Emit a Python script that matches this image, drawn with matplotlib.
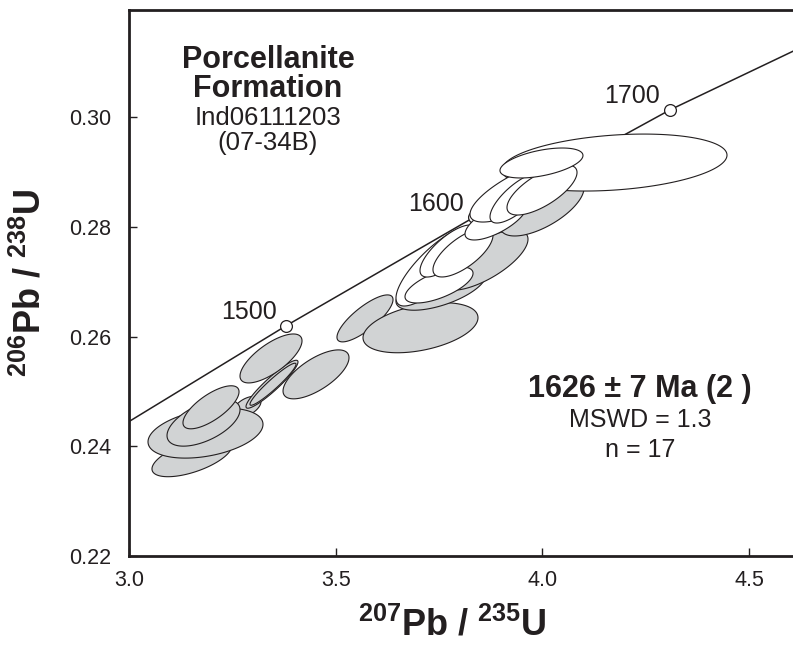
import numpy as np
import matplotlib
matplotlib.use("Agg")
import matplotlib.pyplot as plt

# Concordia curve and age markers
conc_x = [3.000, 3.381, 3.834, 4.309, 4.607]
conc_y = [0.2445, 0.2620, 0.2817, 0.3013, 0.3120]
age_labels = ["1500", "1600", "1700"]
age_x = [3.381, 3.834, 4.309]
age_y = [0.2620, 0.2817, 0.3013]

# Error ellipses: centre, half-widths, correlation
grey_cx = [3.2855, 3.1524, 3.1851, 3.1803, 3.1984, 3.3460, 3.3484, 3.3436,
           3.4525, 3.5710, 3.7053, 3.7549, 3.8589, 3.9993]
grey_cy = [0.2472, 0.2380, 0.2424, 0.2443, 0.2471, 0.2513, 0.2513, 0.2560,
           0.2531, 0.2633, 0.2616, 0.2688, 0.2739, 0.2836]
grey_sx = [0.0339, 0.0968, 0.1391, 0.0883, 0.0678, 0.0629, 0.0557, 0.0750,
           0.0798, 0.0678, 0.1391, 0.1089, 0.1065, 0.1016]
grey_sy = [0.0019, 0.00355, 0.00456, 0.00428, 0.00392, 0.00437, 0.00383, 0.00446,
           0.00446, 0.00428, 0.00456, 0.00401, 0.00547, 0.00528]
grey_rho = [0.5, 0.6, 0.35, 0.55, 0.72, 0.93, 0.95, 0.72,
            0.68, 0.8, 0.4, 0.6, 0.7, 0.65]

white_cx = [4.1747, 3.7452, 3.7501, 3.7731, 3.8081, 3.8880, 3.9497, 3.9400, 3.9993, 3.9980]
white_cy = [0.2917, 0.27285, 0.26939, 0.27558, 0.27531, 0.28123, 0.28651, 0.28524, 0.2867, 0.29162]
white_sx = [0.2722, 0.0992, 0.0823, 0.0690, 0.0726, 0.0750, 0.1246, 0.0665, 0.0847, 0.1004]
white_sy = [0.00519, 0.00729, 0.00328, 0.00474, 0.00446, 0.00364, 0.00565, 0.00456, 0.00456, 0.00273]
white_rho = [0.26, 0.8, 0.65, 0.75, 0.7, 0.7, 0.75, 0.75, 0.7, 0.5]

ink = "#231f20"
grey = "#d1d3d4"

plt.rcParams["font.family"] = ["Liberation Sans", "DejaVu Sans"]
plt.rcParams["mathtext.fontset"] = "custom"
plt.rcParams["mathtext.rm"] = "Liberation Sans"
plt.rcParams["mathtext.bf"] = "Liberation Sans:bold"


def ellipse(ax, cx, cy, sx, sy, rho, fc):
    t = np.linspace(0, 2 * np.pi, 240)
    x = cx + sx * np.cos(t)
    y = cy + sy * (rho * np.cos(t) + np.sqrt(1 - rho ** 2) * np.sin(t))
    ax.fill(x, y, facecolor=fc, edgecolor=ink, linewidth=0.8, zorder=3)


fig = plt.figure(figsize=(7.93, 6.54), dpi=100)
ax = fig.add_axes([129 / 793, 98 / 654, 664 / 793, 546 / 654])

# concordia
ax.plot(conc_x, conc_y, color=ink, linewidth=1.1, zorder=1)
ax.plot(age_x, age_y, "o", markersize=8.5, markerfacecolor="white",
        markeredgecolor=ink, markeredgewidth=0.9, zorder=2)
for lab, x, y in zip(age_labels, age_x, age_y):
    ax.annotate(lab, (x, y), xytext=(-7, 10), textcoords="offset points",
                ha="right", va="center", fontsize=18, color=ink)

for i in range(len(grey_cx)):
    ellipse(ax, grey_cx[i], grey_cy[i], grey_sx[i], grey_sy[i], grey_rho[i], grey)
for i in range(len(white_cx)):
    ellipse(ax, white_cx[i], white_cy[i], white_sx[i], white_sy[i], white_rho[i], "white")

ax.set_xlim(3.0, 4.6066)
ax.set_ylim(0.22, 0.3195)
ax.set_xticks([3.0, 3.5, 4.0, 4.5])
ax.set_xticklabels(["3.0", "3.5", "4.0", "4.5"])
ax.set_yticks([0.22, 0.24, 0.26, 0.28, 0.30])
ax.set_yticklabels(["0.22", "0.24", "0.26", "0.28", "0.30"])
ax.tick_params(direction="in", length=6, width=1, colors=ink, labelsize=15.5)
ax.tick_params(axis="y", pad=13)
ax.tick_params(axis="x", pad=10)
for s in ["left", "bottom", "top"]:
    ax.spines[s].set_linewidth(2)
    ax.spines[s].set_color(ink)
ax.spines["right"].set_visible(False)

# annotation blocks
fig.text(268 / 793, 1 - 68 / 654, "Porcellanite", ha="center", va="baseline",
         fontsize=22, fontweight="bold", color=ink)
fig.text(268 / 793, 1 - 97 / 654, "Formation", ha="center", va="baseline",
         fontsize=22, fontweight="bold", color=ink)
fig.text(268 / 793, 1 - 125 / 654, "Ind06111203", ha="center", va="baseline",
         fontsize=18.5, color=ink)
fig.text(268 / 793, 1 - 150 / 654, "(07-34B)", ha="center", va="baseline",
         fontsize=18.5, color=ink)

fig.text(640 / 793, 1 - 397 / 654, "1626 ± 7 Ma (2 )", ha="center", va="baseline",
         fontsize=22, fontweight="bold", color=ink)
fig.text(640 / 793, 1 - 427 / 654, "MSWD = 1.3", ha="center", va="baseline",
         fontsize=18, color=ink)
fig.text(640 / 793, 1 - 457 / 654, "n = 17", ha="center", va="baseline",
         fontsize=18, color=ink)

# axis labels
fig.text(452 / 793, 1 - 625 / 654, r"$\mathbf{^{207}Pb\;/\;^{235}U}$",
         ha="center", va="center", fontsize=26, color=ink)
fig.text(30 / 793, 1 - 283 / 654, r"$\mathbf{^{206}Pb\;/\;^{238}U}$",
         ha="center", va="center", rotation=90, fontsize=26, color=ink)

fig.savefig("out.png", dpi=100)
